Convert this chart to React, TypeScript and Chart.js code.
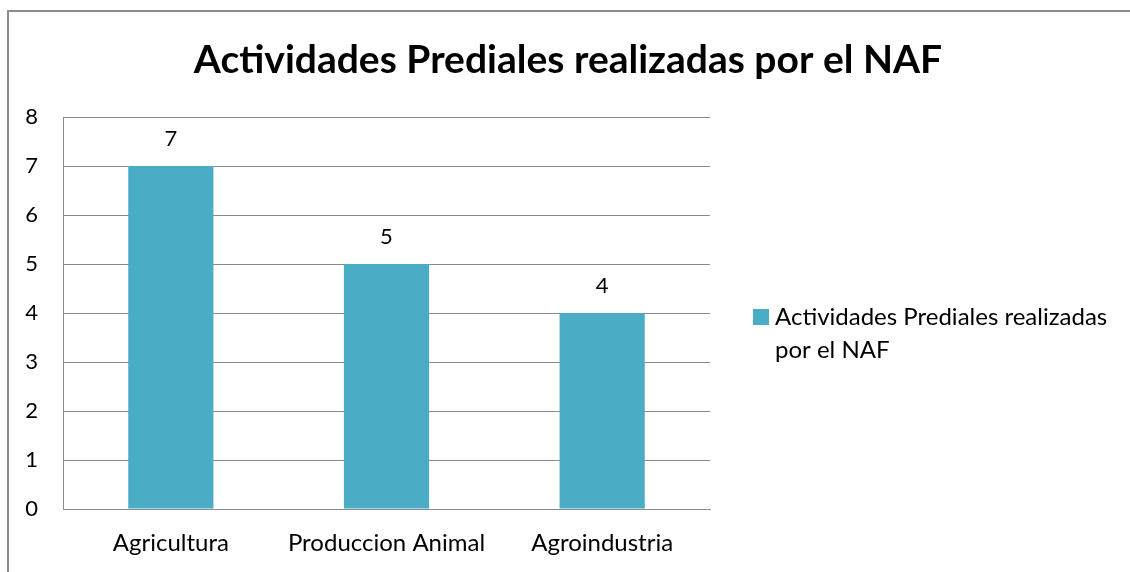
import React, { useEffect, useRef } from "react";
import { Chart, registerables } from "chart.js";

Chart.register(...registerables);

const categories = ["Agricultura", "Produccion Animal", "Agroindustria"];
const values = [7, 5, 4];
const seriesLabel = "Actividades Prediales realizadas por el NAF";
const legendLines = ["Actividades Prediales realizadas", "por el NAF"];
const titleText = "Actividades Prediales realizadas por el NAF";
const yMax = 8;

const FONT = "Lato, 'Noto Sans', sans-serif";
const BAR = "#4BACC6";
const GRID = "#8a8a8a";

const valueLabels = {
  id: "valueLabels",
  afterDatasetsDraw(chart: any) {
    const ctx = chart.ctx;
    const meta = chart.getDatasetMeta(0);
    ctx.save();
    ctx.font = `22px ${FONT}`;
    ctx.fillStyle = "#000";
    ctx.textAlign = "center";
    ctx.textBaseline = "middle";
    meta.data.forEach((el: any, i: number) => {
      ctx.fillText(String(chart.data.datasets[0].data[i]), el.x, el.y - 27);
    });
    ctx.restore();
  },
};

const centeredTitle = {
  id: "centeredTitle",
  afterDraw(chart: any) {
    const ctx = chart.ctx;
    ctx.save();
    ctx.font = `bold 39px ${FONT}`;
    ctx.fillStyle = "#000";
    ctx.textAlign = "center";
    ctx.textBaseline = "middle";
    ctx.fillText(titleText, chart.width / 2 + 3, 60);
    ctx.restore();
  },
};

const sideLegend = {
  id: "sideLegend",
  afterDraw(chart: any) {
    const ctx = chart.ctx;
    const area = chart.chartArea;
    const ds = chart.data.datasets[0];
    const x0 = area.right + 43;
    const y0 = area.top + 200;
    ctx.save();
    ctx.fillStyle = ds.backgroundColor;
    ctx.fillRect(x0, y0 - 8, 16, 16);
    ctx.fillStyle = "#000";
    ctx.font = `24px ${FONT}`;
    ctx.textAlign = "left";
    ctx.textBaseline = "middle";
    legendLines.forEach((line, i) => {
      ctx.fillText(line, x0 + 22, y0 + i * 33);
    });
    ctx.restore();
  },
};

export default function App() {
  const ref = useRef<HTMLCanvasElement>(null);
  useEffect(() => {
    document.body.style.margin = "0";
    const chart = new Chart(ref.current!, {
      type: "bar",
      data: {
        labels: categories,
        datasets: [
          {
            label: seriesLabel,
            data: values,
            backgroundColor: BAR,
            categoryPercentage: 1,
            barPercentage: 0.395,
          },
        ],
      },
      options: {
        responsive: false,
        animation: false,
        layout: { padding: { left: 0, right: 420, top: 117, bottom: 0 } },
        plugins: {
          legend: { display: false },
          tooltip: { enabled: false },
          title: { display: false },
        },
        scales: {
          x: {
            grid: { display: false, drawTicks: false },
            border: { display: true, color: GRID, width: 1 },
            ticks: {
              color: "#000",
              font: { family: FONT, size: 24 },
              padding: 20,
              maxRotation: 0,
            },
            afterFit: (s: any) => {
              s.height = 63;
            },
          },
          y: {
            min: 0,
            max: yMax,
            grid: { color: GRID, drawTicks: false, lineWidth: 1 },
            border: { display: true, color: GRID, width: 1 },
            ticks: {
              stepSize: 1,
              color: "#000",
              font: { family: FONT, size: 22 },
              padding: 25,
            },
            afterFit: (s: any) => {
              s.width = 63;
            },
          },
        },
      },
      plugins: [valueLabels, centeredTitle, sideLegend],
    });
    return () => chart.destroy();
  }, []);
  return (
    <div style={{ position: "relative", width: 1130, height: 572, overflow: "hidden", background: "#fff" }}>
      <canvas ref={ref} width={1130} height={572} style={{ display: "block" }} />
      <div
        style={{
          position: "absolute",
          left: 7,
          top: 10,
          width: 1200,
          height: 700,
          borderTop: "2px solid #8c8c8c",
          borderLeft: "2px solid #8c8c8c",
          pointerEvents: "none",
        }}
      />
    </div>
  );
}
